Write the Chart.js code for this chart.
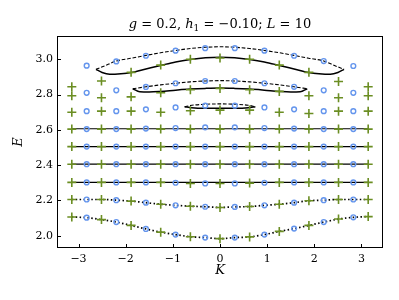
<!DOCTYPE html>
<html>
<head>
<meta charset="utf-8">
<script src="https://cdn.jsdelivr.net/npm/chart.js@4"></script>
<style>
  html, body { margin: 0; padding: 0; background: #fff; }
  #wrap { width: 399px; height: 300px; }
</style>
</head>
<body>
<div id="wrap"><canvas id="spec" width="399" height="300"></canvas></div>
<script>
/* momenta: green at multiples of 2pi/10, blue shifted by pi/10 */
const kGreen = [-3.142, -2.513, -1.885, -1.257, -0.628, 0, 0.628, 1.257, 1.885, 2.513, 3.142];
const kBlue = [-2.827, -2.199, -1.571, -0.942, -0.314, 0.314, 0.942, 1.571, 2.199, 2.827];

/* energies, one array per band */
const greenBands = [
  [2.844, 2.877, 2.926, 2.967, 3.000, 3.007, 3.000, 2.967, 2.926, 2.874, 2.844],
  [2.793, 2.782, 2.787, 2.810, 2.827, 2.835, 2.827, 2.818, 2.793, 2.782, 2.793],
  [2.700, 2.706, 2.706, 2.700, 2.708, 2.712, 2.712, 2.700, 2.693, 2.706, 2.706],
  [2.604, 2.604, 2.604, 2.604, 2.604, 2.604, 2.604, 2.604, 2.604, 2.604, 2.604],
  [2.505, 2.505, 2.505, 2.505, 2.505, 2.505, 2.505, 2.505, 2.505, 2.505, 2.505],
  [2.405, 2.405, 2.405, 2.405, 2.405, 2.405, 2.405, 2.405, 2.405, 2.405, 2.405],
  [2.302, 2.302, 2.302, 2.302, 2.296, 2.296, 2.298, 2.302, 2.302, 2.302, 2.302],
  [2.205, 2.205, 2.196, 2.178, 2.167, 2.160, 2.165, 2.178, 2.198, 2.205, 2.205],
  [2.106, 2.091, 2.058, 2.020, 1.994, 1.983, 1.993, 2.024, 2.058, 2.094, 2.108]
];
const blueBands = [
  [2.964, 2.988, 3.020, 3.049, 3.063, 3.063, 3.049, 3.020, 2.990, 2.962],
  [2.810, 2.824, 2.843, 2.864, 2.877, 2.877, 2.864, 2.844, 2.824, 2.810],
  [2.706, 2.706, 2.716, 2.727, 2.737, 2.737, 2.727, 2.716, 2.706, 2.706],
  [2.604, 2.604, 2.607, 2.610, 2.614, 2.614, 2.610, 2.607, 2.604, 2.604],
  [2.505, 2.505, 2.505, 2.505, 2.505, 2.505, 2.505, 2.505, 2.505, 2.505],
  [2.405, 2.405, 2.405, 2.405, 2.405, 2.405, 2.405, 2.405, 2.405, 2.405],
  [2.302, 2.302, 2.302, 2.300, 2.296, 2.296, 2.300, 2.302, 2.302, 2.302],
  [2.205, 2.201, 2.187, 2.172, 2.164, 2.163, 2.172, 2.187, 2.201, 2.205],
  [2.102, 2.077, 2.038, 2.006, 1.989, 1.989, 2.006, 2.040, 2.077, 2.104]
];

/* flat solid levels */
const flatLevels = [2.302, 2.405, 2.505, 2.606];

/* loop edges: dashed upper and solid lower */
const topDashK = [-2.63, -2.45, -2.2, -1.88, -1.57, -1.26, -0.94, -0.63, -0.31, 0, 0.31, 0.63, 0.94, 1.26, 1.57, 1.88, 2.2, 2.45, 2.63];
const topDashE = [2.943, 2.962, 2.990, 3.006, 3.022, 3.037, 3.050, 3.061, 3.068, 3.071, 3.068, 3.061, 3.050, 3.037, 3.022, 3.006, 2.990, 2.962, 2.943];
const topSolidK = [-2.63, -2.5, -2.34, -2.1, -1.88, -1.57, -1.26, -0.94, -0.63, -0.31, 0, 0.31, 0.63, 0.94, 1.26, 1.57, 1.88, 2.1, 2.34, 2.5, 2.63];
const topSolidE = [2.943, 2.925, 2.915, 2.918, 2.925, 2.945, 2.965, 2.985, 2.999, 3.009, 3.012, 3.009, 2.999, 2.985, 2.965, 2.945, 2.925, 2.918, 2.915, 2.925, 2.943];
const midDashK = [-1.85, -1.57, -1.26, -0.94, -0.63, -0.31, 0, 0.31, 0.63, 0.94, 1.26, 1.57, 1.85];
const midDashE = [2.833, 2.844, 2.855, 2.864, 2.872, 2.877, 2.879, 2.877, 2.872, 2.864, 2.855, 2.844, 2.833];
const midSolidK = [-1.85, -1.70, -1.5, -1.26, -0.94, -0.63, -0.31, 0, 0.31, 0.63, 0.94, 1.26, 1.5, 1.70, 1.85];
const midSolidE = [2.833, 2.816, 2.815, 2.818, 2.825, 2.831, 2.835, 2.837, 2.835, 2.831, 2.825, 2.818, 2.815, 2.816, 2.833];
const smallDashK = [-0.75, -0.6, -0.31, 0, 0.31, 0.6, 0.75];
const smallDashE = [2.731, 2.739, 2.745, 2.747, 2.745, 2.739, 2.731];
const smallSolidK = [-0.75, -0.6, -0.31, 0, 0.31, 0.6, 0.75];
const smallSolidE = [2.731, 2.725, 2.722, 2.722, 2.722, 2.725, 2.731];

/* axes */
const xTicks = [-3, -2, -1, 0, 1, 2, 3];
const yTicks = [2.0, 2.2, 2.4, 2.6, 2.8, 3.0];
const xRange = [-3.456, 3.456];
const yRange = [1.93, 3.132];

const SERIF = "'DejaVu Serif', serif";

function pts(ks, es) {
  return ks.map((k, i) => ({ x: k, y: es[i] }));
}

const greenPts = greenBands.flatMap(b => pts(kGreen, b));
const bluePts = blueBands.flatMap(b => pts(kBlue, b));

/* dotted dispersion curves through both sets of points */
function merged(bandIdx) {
  return pts(kGreen, greenBands[bandIdx])
    .concat(pts(kBlue, blueBands[bandIdx]))
    .sort((a, b) => a.x - b.x);
}

function lineSet(data, dash, width) {
  return {
    data,
    showLine: true,
    borderColor: "#000",
    borderWidth: width,
    borderDash: dash,
    pointRadius: 0,
    tension: 0,
    cubicInterpolationMode: "monotone",
    order: 2
  };
}

const datasets = [
  {
    data: greenPts,
    pointStyle: "cross",
    pointRadius: 4.5,
    borderColor: "#6b8e23",
    backgroundColor: "#6b8e23",
    pointBorderWidth: 1.6,
    order: 0
  },
  {
    data: bluePts,
    pointStyle: "circle",
    pointRadius: 2.4,
    borderColor: "#6495ed",
    backgroundColor: "rgba(0,0,0,0)",
    pointBorderWidth: 1.4,
    order: 0
  }
];

flatLevels.forEach(lv => {
  datasets.push(lineSet([{ x: kGreen[0], y: lv }, { x: kGreen[kGreen.length - 1], y: lv }], [], 1.2));
});
datasets.push(lineSet(merged(7), [1.5, 2.4], 1.7));
datasets.push(lineSet(merged(8), [1.5, 2.4], 1.7));
datasets.push(lineSet(pts(topDashK, topDashE), [3.7, 1.8], 1.1));
datasets.push(lineSet(pts(topSolidK, topSolidE), [], 1.5));
datasets.push(lineSet(pts(midDashK, midDashE), [3.7, 1.8], 1.1));
datasets.push(lineSet(pts(midSolidK, midSolidE), [], 1.5));
datasets.push(lineSet(pts(smallDashK, smallDashE), [3.7, 1.8], 1.1));
datasets.push(lineSet(pts(smallSolidK, smallSolidE), [], 1.5));

/* frame, inward ticks, title and axis labels */
const decor = {
  id: "decor",
  afterDraw(chart) {
    const c = chart.ctx;
    const a = chart.chartArea;
    const xs = chart.scales.x, ys = chart.scales.y;
    c.save();
    c.strokeStyle = "#000";
    c.lineWidth = 1;
    c.strokeRect(Math.round(a.left) + 0.5, Math.round(a.top) + 0.5,
      Math.round(a.right - a.left) - 1, Math.round(a.bottom - a.top) - 1);
    c.beginPath();
    xTicks.forEach(v => {
      const px = Math.round(xs.getPixelForValue(v)) + 0.5;
      c.moveTo(px, a.bottom);
      c.lineTo(px, a.bottom - 4);
    });
    yTicks.forEach(v => {
      const py = Math.round(ys.getPixelForValue(v)) + 0.5;
      c.moveTo(a.left, py);
      c.lineTo(a.left + 4, py);
    });
    c.stroke();

    // title, mathtext style
    const fs = 13;
    const parts = [
      ["g", "italic", fs, 0], [" = 0.2, ", "normal", fs, 0],
      ["h", "italic", fs, 0], ["1", "normal", 9, 3],
      [" = \u22120.10; ", "normal", fs, 0],
      ["L", "italic", fs, 0], [" = 10", "normal", fs, 0]
    ];
    let total = 0;
    parts.forEach(p => {
      c.font = p[1] + " " + p[2] + "px " + SERIF;
      p.push(c.measureText(p[0]).width);
      total += p[4];
    });
    let x = (a.left + a.right) / 2 - total / 2;
    const base = 28;
    c.fillStyle = "#000";
    c.textBaseline = "alphabetic";
    c.textAlign = "left";
    parts.forEach(p => {
      c.font = p[1] + " " + p[2] + "px " + SERIF;
      c.fillText(p[0], x, base + p[3]);
      x += p[4];
    });

    // axis labels
    c.font = "italic 13px " + SERIF;
    c.textAlign = "center";
    c.textBaseline = "middle";
    c.fillText("K", (a.left + a.right) / 2, 271);
    c.translate(19, (a.top + a.bottom) / 2);
    c.rotate(-Math.PI / 2);
    c.fillText("E", 0, 0);
    c.restore();
  }
};

new Chart(document.getElementById("spec"), {
  type: "scatter",
  data: { datasets },
  options: {
    responsive: false,
    animation: false,
    events: [],
    layout: { padding: { top: 36, right: 16, left: 0, bottom: 0 } },
    plugins: { legend: { display: false }, tooltip: { enabled: false } },
    scales: {
      x: {
        type: "linear",
        min: xRange[0],
        max: xRange[1],
        afterBuildTicks: s => { s.ticks = xTicks.map(v => ({ value: v })); },
        afterFit: s => { s.height = 52; },
        grid: { display: false, drawTicks: false },
        border: { display: false },
        ticks: {
          padding: 5,
          color: "#000",
          font: { family: SERIF, size: 11 },
          maxRotation: 0,
          callback: v => (v < 0 ? "\u2212" + Math.abs(v) : String(v))
        }
      },
      y: {
        type: "linear",
        min: yRange[0],
        max: yRange[1],
        afterBuildTicks: s => { s.ticks = yTicks.map(v => ({ value: v })); },
        afterFit: s => { s.width = 57; },
        grid: { display: false, drawTicks: false },
        border: { display: false },
        ticks: {
          padding: 4,
          color: "#000",
          font: { family: SERIF, size: 11 },
          callback: v => v.toFixed(1)
        }
      }
    }
  },
  plugins: [decor]
});
</script>
</body>
</html>
